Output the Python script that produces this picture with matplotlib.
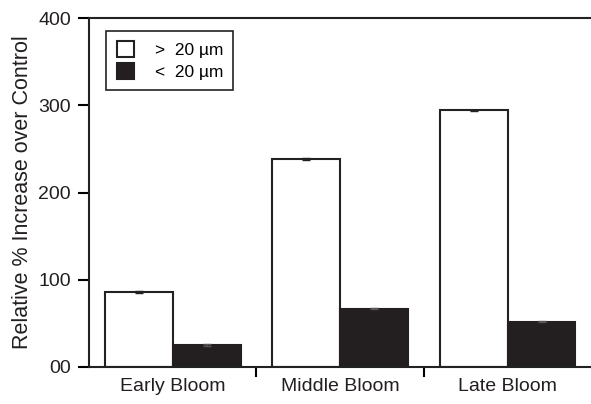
import matplotlib.pyplot as plt
import numpy as np

plt.rcParams['font.family'] = ['Liberation Sans', 'DejaVu Sans']

stages = ['Early Bloom', 'Middle Bloom', 'Late Bloom']
large = [86, 238, 294]
small = [25, 67, 52]
large_err = [1, 1, 1]
small_err = [1, 1, 1]
yticks = [0, 100, 200, 300, 400]
ytick_labels = ['00', '100', '200', '300', '400']

fig = plt.figure(figsize=(5.91, 4.04), dpi=100)
ax = fig.add_axes([0.1506, 0.0916, 0.85, 0.8638])

x = np.arange(len(stages))
w = 0.405
ax.bar(x - w / 2, large, w, color='white', edgecolor='#222222', linewidth=1.5,
       yerr=large_err, capsize=3, error_kw=dict(ecolor='#222222', elinewidth=1.2),
       label='>  20 \u00b5m')
ax.bar(x + w / 2, small, w, color='#231f20', edgecolor='#231f20', linewidth=1.5,
       yerr=small_err, capsize=3, error_kw=dict(ecolor='#555555', elinewidth=1.2),
       label='<  20 \u00b5m')

ax.set_xlim(-0.5, 2.5)
ax.set_ylim(0, 400)
ax.set_xticks(x)
ax.set_xticklabels(stages, fontsize=14, color='#231f20')
ax.set_xticks([0.5, 1.5], minor=True)
ax.tick_params(axis='x', which='major', length=0, pad=8)
ax.tick_params(axis='x', which='minor', length=7, width=1.5, direction='out')
ax.set_yticks(yticks)
ax.set_yticklabels(ytick_labels, fontsize=14, color='#231f20')
ax.tick_params(axis='y', length=8, width=1.5, pad=5)
ax.set_ylabel('Relative % Increase over Control', fontsize=15.5, labelpad=4,
              color='#231f20')

for s in ['left', 'top', 'bottom']:
    ax.spines[s].set_linewidth(1.5)
    ax.spines[s].set_color('#222222')
ax.spines['right'].set_visible(False)

leg = ax.legend(loc='upper left', bbox_to_anchor=(0.034, 0.963), fontsize=12.5,
                frameon=True, fancybox=False, edgecolor='#222222', framealpha=1,
                handlelength=1.0, handleheight=1.0, handletextpad=1.2,
                borderpad=0.6, labelspacing=0.3, borderaxespad=0)
leg.get_frame().set_linewidth(1.2)

fig.savefig('out.png', dpi=100)
